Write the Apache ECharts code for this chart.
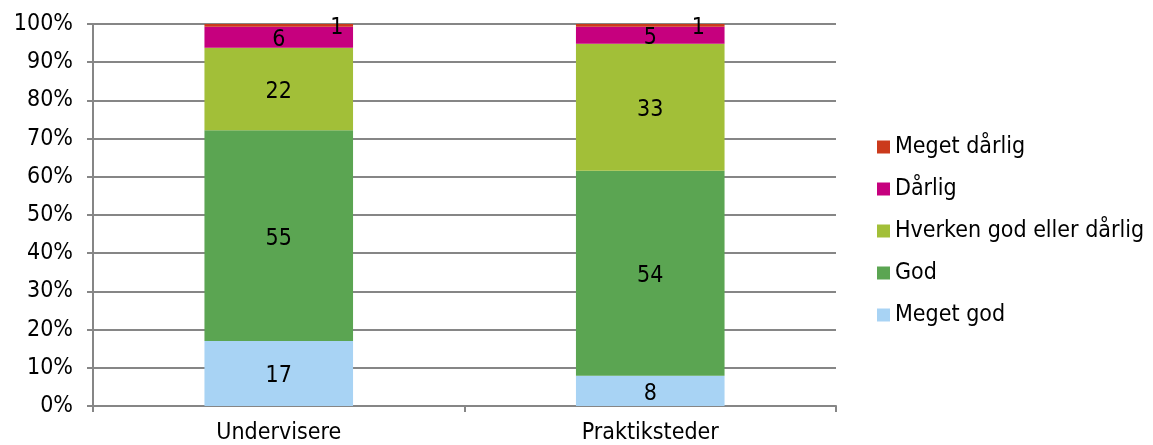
<!DOCTYPE html>
<html>
<head>
<meta charset="utf-8">
<script src="https://cdn.jsdelivr.net/npm/echarts@6/dist/echarts.min.js"></script>
<style>
  html, body { margin: 0; padding: 0; background: #fff; }
  #chart { width: 1153px; height: 445px; }
</style>
</head>
<body>
<div id="chart"></div>
<script>
// kategorier og svarfordeling i procent (aflæst), etiketter viser afrundet værdi
const categories = ["Undervisere", "Praktiksteder"]
const seriesNames = ["Meget god", "God", "Hverken god eller dårlig", "Dårlig", "Meget dårlig"]
const megetGod = [17.0, 7.9]
const god = [55.2, 53.7]
const hverken = [21.6, 33.2]
const daarlig = [5.5, 4.5]
const megetDaarlig = [0.7, 0.7]
const yTicks = [0, 10, 20, 30, 40, 50, 60, 70, 80, 90, 100]

const colors = ["#A8D3F4", "#5BA552", "#A2BF38", "#C6007E", "#CB3A1C"]
const rawData = [megetGod, god, hverken, daarlig, megetDaarlig]
// etiketten for "Meget dårlig" sidder til højre for søjlens midte
const smallLabelOffset = [[58, 3], [48, 3]]

const chart = echarts.init(document.getElementById("chart"))
const font = "'DejaVu Sans Condensed', 'Liberation Sans Narrow', 'DejaVu Sans'"
const fs = 23

const series = rawData.map((arr, k) => ({
  name: seriesNames[k],
  type: "bar",
  stack: "total",
  barWidth: "40%",
  itemStyle: { color: colors[k] },
  label: {
    show: true,
    position: "inside",
    offset: [0, 3],
    color: "#000",
    fontFamily: font,
    fontSize: fs,
    formatter: (p) => Math.round(p.value),
  },
  data: arr.map((v, i) => (k === 4 ? { value: v, label: { offset: smallLabelOffset[i] } } : v)),
}))

chart.setOption({
  animation: false,
  textStyle: { fontFamily: font },
  grid: { left: 93, right: 317, top: 24, bottom: 39, outerBoundsMode: "none", containLabel: false },
  legend: {
    orient: "vertical",
    left: 877,
    top: 135,
    padding: 0,
    itemWidth: 13,
    itemHeight: 13,
    itemGap: 18,
    itemStyle: { borderWidth: 0 },
    textStyle: { fontFamily: font, fontSize: fs, lineHeight: 24, color: "#000" },
    data: seriesNames.slice().reverse(),
    icon: "rect",
  },
  xAxis: {
    type: "category",
    data: categories,
    axisLine: { lineStyle: { color: "#868686", width: 2 } },
    axisTick: { show: true, length: 6, lineStyle: { color: "#868686", width: 2 } },
    axisLabel: { color: "#000", fontFamily: font, fontSize: fs, margin: 16 },
  },
  yAxis: {
    type: "value",
    min: 0,
    max: 100,
    interval: 10,
    axisLine: { show: true, lineStyle: { color: "#868686", width: 2 } },
    axisTick: { show: true, length: 6, lineStyle: { color: "#868686", width: 2 } },
    splitLine: { lineStyle: { color: "#868686", width: 2 } },
    axisLabel: {
      color: "#000",
      fontFamily: font,
      fontSize: fs,
      margin: 20,
      formatter: (v) => (yTicks.includes(v) ? v + "%" : ""),
    },
  },
  series: series,
})
</script>
</body>
</html>
